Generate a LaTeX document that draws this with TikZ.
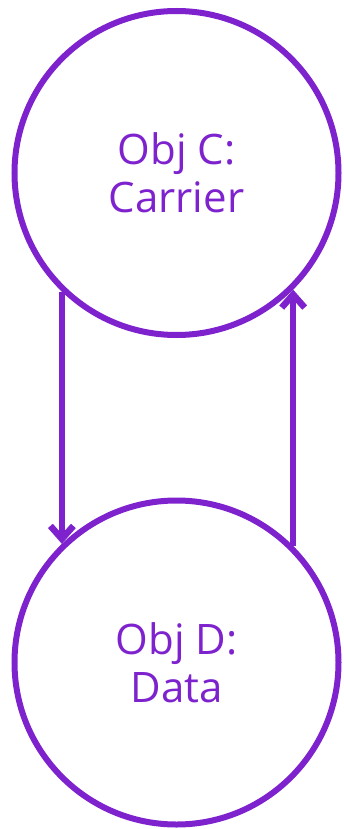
\documentclass[tikz,border=0pt]{standalone}
\usepackage{fontspec}
\setmainfont{Open Sans}
\usetikzlibrary{arrows.meta}
\definecolor{vio}{HTML}{7E22CE}
\tikzset{
  objnode/.style={circle, draw=vio, line width=6pt, minimum size=324pt, inner sep=0pt,
    text=vio, align=center, font=\fontsize{42pt}{48pt}\selectfont},
  link/.style={draw=vio, line width=6.5pt,
    -{Straight Barb[sharp, length=13pt, width=23pt]}}
}
\begin{document}
\begin{tikzpicture}[x=1pt,y=1pt]
  \useasboundingbox (0,0) rectangle (343,-829);
  \node[objnode] (C) at (176.5,-173) {Obj C:\\Carrier};
  \node[objnode] (D) at (176.5,-662.5) {Obj D:\\Data};
  \draw[link] (C.226) -- (D.134);
  \draw[link] (D.45) -- (C.-45);
\end{tikzpicture}
\end{document}
